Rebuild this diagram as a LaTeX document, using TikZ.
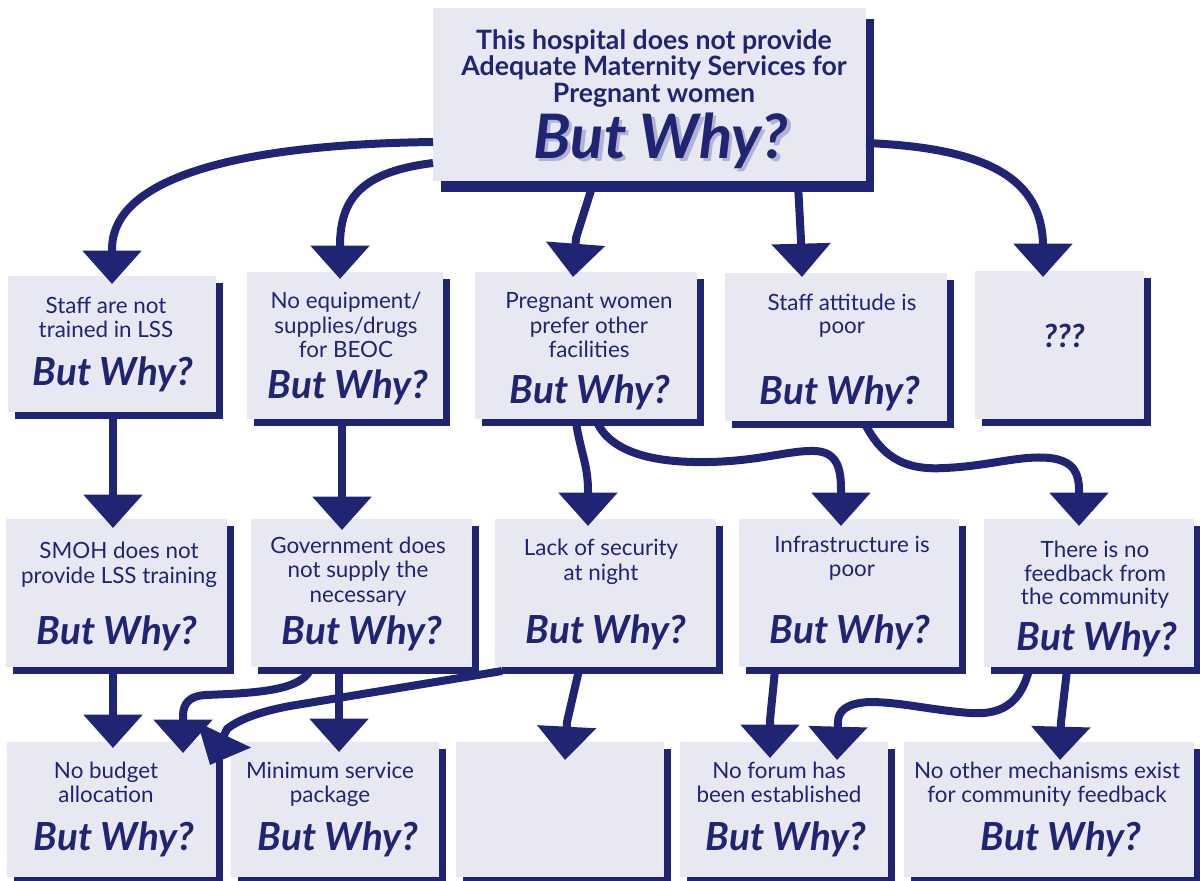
\documentclass[tikz,border=0pt]{standalone}
\usepackage{fontspec}
\setmainfont{Lato}
\usetikzlibrary{arrows.meta,shadows,fit,calc}
\definecolor{navy}{RGB}{31,37,115}
\definecolor{boxfill}{RGB}{231,232,241}
\definecolor{glow}{RGB}{176,179,212}

\begin{document}
\begin{tikzpicture}[x=0.75pt,y=-0.75pt,
  basebox/.style={fill=boxfill, inner sep=0pt, outer sep=0pt},
  box/.style={basebox, general shadow={fill=navy, shadow xshift=5.25pt, shadow yshift=-5.25pt}},
  bigbox/.style={basebox, general shadow={fill=navy, shadow xshift=6pt, shadow yshift=-8pt}},
  txt/.style={anchor=base, inner sep=0pt, text=navy, font=\fontsize{16.8}{19}\selectfont},
  title/.style={anchor=base, inner sep=0pt, text=navy, font=\fontsize{20}{22}\selectfont\bfseries},
  why/.style={anchor=base, inner sep=0pt, text=navy, font=\fontsize{29}{31}\selectfont\bfseries\itshape},
  bigwhy/.style={anchor=base, inner sep=0pt, text=navy, font=\fontsize{46}{50}\selectfont\bfseries\itshape},
  link/.style={draw=navy, line width=6pt, line join=round, -{Triangle[width=43pt,length=25pt]}}
]
\useasboundingbox (0,0) rectangle (1200,881);

% ---- boxes ----
\node[bigbox, fit={(433,8) (866,181)}] (T) {};
\node[box, fit={(8,276) (216,412)}] (A) {};
\node[box, fit={(247,272) (443,419)}] (B) {};
\node[box, fit={(475,272) (697,419)}] (C) {};
\node[box, fit={(725,273) (947,421)}] (D) {};
\node[box, fit={(975,271) (1144,419)}] (E) {};
\node[box, fit={(6,519) (227,667)}] (F) {};
\node[box, fit={(251,519) (472,667)}] (G) {};
\node[box, fit={(495,519) (716,667)}] (H) {};
\node[box, fit={(739,519) (959,667)}] (I) {};
\node[box, fit={(984,519) (1194,667)}] (J) {};
\node[box, fit={(7,742) (216,877)}] (K) {};
\node[box, fit={(231,742) (439,877)}] (L) {};
\node[box, fit={(456,742) (664,877)}] (M) {};
\node[box, fit={(680,742) (888,877)}] (N) {};
\node[box, fit={(904,742) (1194,877)}] (O) {};

% ---- texts ----
\node[title] (T1) at (654,50) {This hospital does not provide};
\node[title] (T2) at (654,76) {Adequate Maternity Services for};
\node[title] (T3) at (654,103) {Pregnant women};
% large question with a soft lavender shadow set behind it
\node[bigwhy] (Tw) at (661,158)
  {\rlap{\kern2.4pt\raisebox{-2.4pt}{\color{glow}But Why?}}But Why?};

\node[txt] (A1) at (106,313) {Staff are not};
\node[txt] (A2) at (106,337) {trained in LSS};
\node[why] (Aw) at (113,385) {But Why?};

\node[txt] (B1) at (346,308) {No equipment/};
\node[txt] (B2) at (346,333) {supplies/drugs};
\node[txt] (B3) at (346,357) {for BEOC};
\node[why] (Bw) at (348,398) {But Why?};

\node[txt] (C1) at (589,308) {Pregnant women};
\node[txt] (C2) at (589,333) {prefer other};
\node[txt] (C3) at (589,357) {facilities};
\node[why] (Cw) at (590,403) {But Why?};

\node[txt] (D1) at (842,310) {Staff attitude is};
\node[txt] (D2) at (842,333) {poor};
\node[why] (Dw) at (840,404) {But Why?};

\node[why, font=\fontsize{24}{26}\selectfont\bfseries\itshape] (E1) at (1064,347) {???};

\node[txt] (F1) at (119,558) {SMOH does not};
\node[txt] (F2) at (119,583) {provide LSS training};
\node[why] (Fw) at (117,644) {But Why?};

\node[txt] (G1) at (358,553) {Government does};
\node[txt] (G2) at (358,577) {not supply the};
\node[txt] (G3) at (358,602) {necessary};
\node[why] (Gw) at (362,644) {But Why?};

\node[txt] (H1) at (601,555) {Lack of security};
\node[txt] (H2) at (601,580) {at night};
\node[why] (Hw) at (606,643) {But Why?};

\node[txt] (I1) at (852,552) {Infrastructure is};
\node[txt] (I2) at (852,576) {poor};
\node[why] (Iw) at (850,643) {But Why?};

\node[txt] (J1) at (1095,557) {There is no};
\node[txt] (J2) at (1095,581) {feedback from};
\node[txt] (J3) at (1095,604) {the community};
\node[why] (Jw) at (1097,650) {But Why?};

\node[txt] (K1) at (106,778) {No budget};
\node[txt] (K2) at (106,802) {allocation};
\node[why] (Kw) at (114,850) {But Why?};

\node[txt] (L1) at (330,778) {Minimum service};
\node[txt] (L2) at (330,802) {package};
\node[why] (Lw) at (338,850) {But Why?};

\node[txt] (N1) at (779,778) {No forum has};
\node[txt] (N2) at (779,802) {been established};
\node[why] (Nw) at (786,850) {But Why?};

\node[txt] (O1) at (1047,778) {No other mechanisms exist};
\node[txt] (O2) at (1047,802) {for community feedback};
\node[why] (Ow) at (1061,850) {But Why?};

% ---- connectors: top question to first row ----
\draw[link] ($(T.north west)+(0,134)$) .. controls (200,145) and (113,190) .. (112,248) -- ($(A.north west)+(104,8)$);
\draw[link] ($(T.north west)+(0,155)$) .. controls (360,172) and (341,200) .. (340,243) -- ($(B.north west)+(93,7)$);
\draw[link] ($(T.south west)+(160,3)$) -- (576,238) -- ($(C.north west)+(98,5)$);
\draw[link] ($(T.south west)+(365,3)$) -- (801,240) -- ($(D.north west)+(77,4)$);
\draw[link] ($(T.north east)+(0,135)$) .. controls (990,148) and (1042,180) .. (1043,245) -- ($(E.north west)+(68,6)$);

% ---- first row to second row ----
\draw[link] ($(A.south west)+(105,3)$) -- ($(F.north west)+(107,9)$);
\draw[link] ($(B.south west)+(95,3)$) -- ($(G.north west)+(91,11)$);
\draw[link] ($(C.south west)+(101,3)$) .. controls (580,450) and (588,465) .. (588,490) -- ($(H.north west)+(93,7)$);
\draw[link] ($(C.south west)+(122,3)$) .. controls (612,455) and (660,463) .. (709,462)
  .. controls (760,461) and (790,450) .. (815,451)
  .. controls (838,452) and (841,470) .. (841,490) -- ($(I.north west)+(102,7)$);
\draw[link] ($(D.south west)+(140,3)$) .. controls (885,462) and (910,470) .. (945,468)
  .. controls (990,466) and (1020,455) .. (1050,458)
  .. controls (1075,461) and (1079,475) .. (1079,490) -- ($(J.north west)+(95,7)$);

% ---- second row to third row ----
\draw[link] ($(F.south west)+(107,3)$) -- ($(K.north west)+(106,6)$);
\draw[link] ($(G.south west)+(59,3)$) .. controls (300,690) and (260,693) .. (205,695)
  .. controls (190,696) and (183,703) .. (183,716) -- ($(K.north west)+(176,11)$);
\draw[link] ($(H.south west)+(7,4)$) -- (290,706) .. controls (258,712) and (238,720) .. (227,729) -- ($(K.north east)+(-6,23)$);
\draw[link] ($(G.south west)+(88,3)$) -- ($(L.north west)+(108,10)$);
\draw[link] ($(H.south west)+(84,3)$) -- (567,722) -- ($(M.north west)+(109,18)$);
\draw[link] ($(I.south west)+(36,3)$) -- (770,720) -- ($(N.north west)+(90,16)$);
\draw[link] ($(J.south west)+(45,3)$) .. controls (1020,705) and (1000,715) .. (970,713)
  .. controls (930,710) and (900,702) .. (870,702)
  .. controls (845,703) and (838,712) .. (838,722) -- ($(N.north west)+(157,18)$);
\draw[link] ($(J.south west)+(83,3)$) -- (1061,722) -- ($(O.north west)+(156,18)$);
\end{tikzpicture}
\end{document}
